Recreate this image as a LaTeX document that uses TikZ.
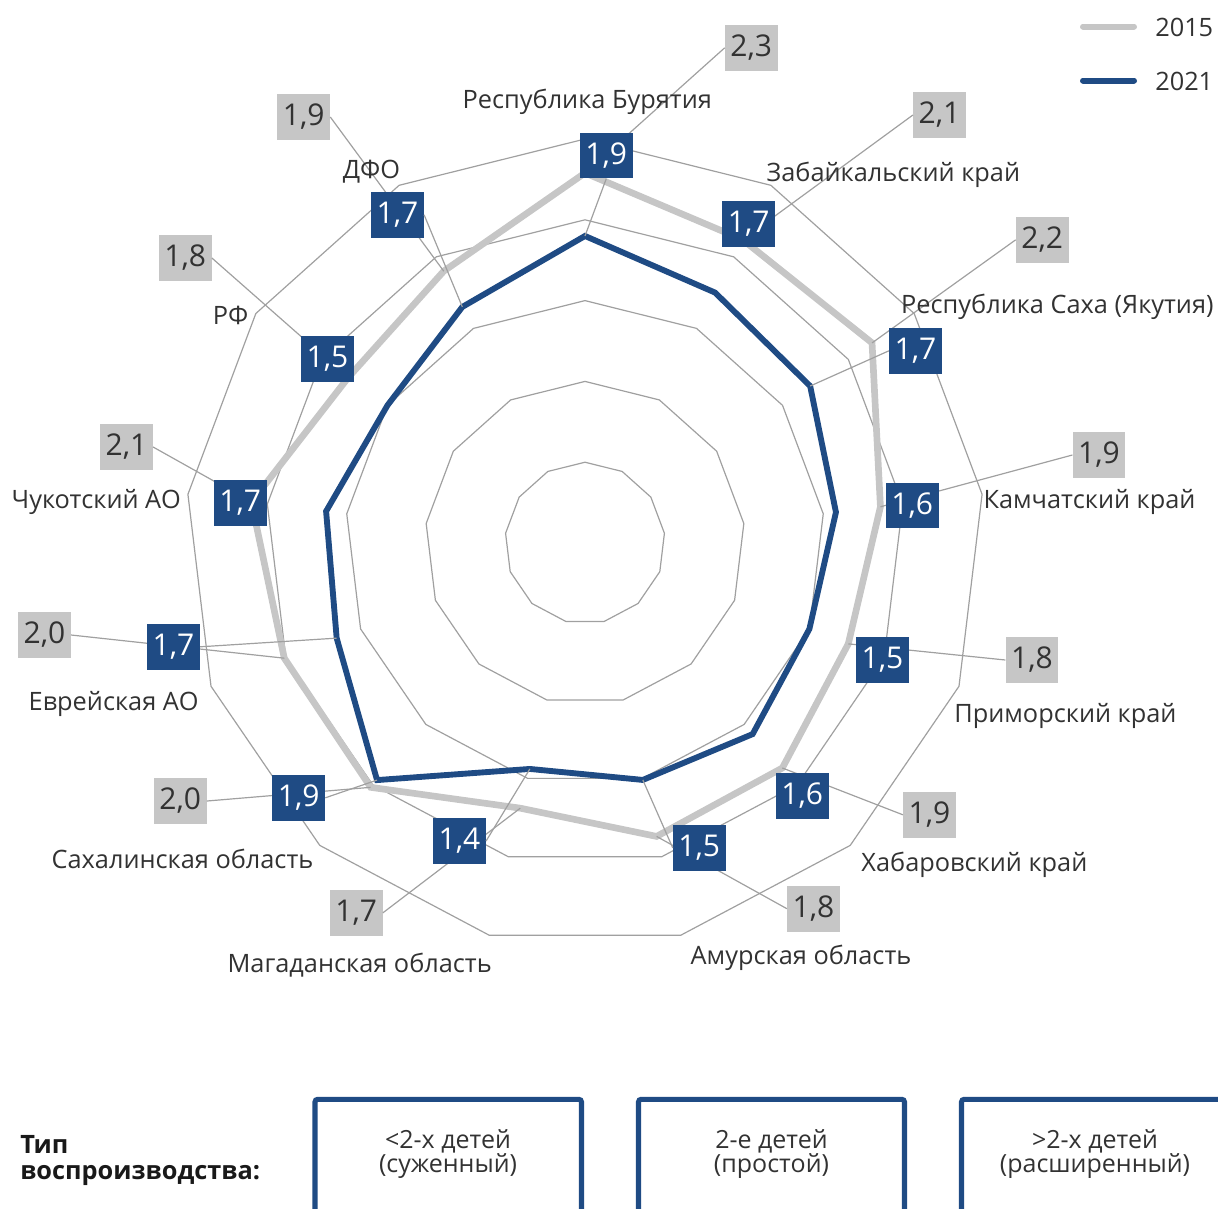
\documentclass[tikz,border=0pt]{standalone}
\usepackage{fontspec}
\setmainfont{Open Sans}
\definecolor{seriesblue}{RGB}{31,75,132}
\definecolor{seriesgray}{RGB}{198,198,198}
\definecolor{gridgray}{RGB}{160,160,160}
\definecolor{labelgray}{RGB}{50,50,50}

\tikzset{
  ring/.style={draw=gridgray, line width=0.9pt},
  leader/.style={draw=gridgray, line width=0.9pt},
  line2015/.style={draw=seriesgray, line width=5pt},
  line2021/.style={draw=seriesblue, line width=4.4pt},
  valbox/.style={minimum width=39.5pt, minimum height=34.3pt, inner sep=0pt, font=\fontsize{22.5}{24}\selectfont},
  box2015/.style={valbox, fill=seriesgray, text=labelgray},
  box2021/.style={valbox, fill=seriesblue, text=white},
  region/.style={anchor=base, inner sep=0pt, text=labelgray, font=\fontsize{19}{22}\selectfont},
  legendtext/.style={anchor=west, inner sep=0pt, text=labelgray, font=\fontsize{19}{22}\selectfont},
  typebox/.style={draw=seriesblue, line width=3.8pt, rounded corners=2pt},
  typetext/.style={align=center, inner sep=0pt, text=labelgray, font=\fontsize{18.75}{18.5}\selectfont},
  typehead/.style={anchor=west, align=left, inner sep=0pt, text=black!90, font=\bfseries\fontsize{19}{19.5}\selectfont}
}

\begin{document}
\begin{tikzpicture}[x=0.75pt, y=-0.75pt]
\useasboundingbox (0,0) rectangle (1218,1208);
\clip (0,0) rectangle (1218,1208);

\begin{scope}[shift={(585,543)}, yscale=1.01]
  \foreach \r in {80,160,...,400}
    \draw[ring] (-90:\r) \foreach \k in {1,...,12} { -- ({-90+\k*360/13}:\r) } -- cycle;
  \foreach \v [count=\k from 0] in {2.29,2.12,2.18,1.86,1.76,1.86,1.87,1.69,2.02,2.01,2.10,1.80,1.90}
    \coordinate (s15-\k) at ({-90+\k*360/13}:{160*\v});
  \foreach \v [count=\k from 0] in {1.90,1.75,1.71,1.58,1.50,1.58,1.51,1.44,1.96,1.66,1.63,1.50,1.65}
    \coordinate (s21-\k) at ({-90+\k*360/13}:{160*\v});
\end{scope}

\draw[line2015] (s15-0) \foreach \k in {1,...,12} { -- (s15-\k) } -- cycle;
\draw[line2021] (s21-0) \foreach \k in {1,...,12} { -- (s21-\k) } -- cycle;

\foreach \ipart/\fpart/\x/\y/\side [count=\k from 0] in
  {2/3/751.3/47.8/west, 2/1/939.5/115/west, 2/2/1042.3/239.8/west, 1/9/1099/455/west,
   1/8/1032/660/west, 1/9/929.5/814.8/west, 1/8/813.5/908.7/west, 1/7/356.3/912.8/east,
   2/0/180.3/801/east, 2/0/44.5/635/east, 2/1/126.5/447/east, 1/8/185.3/258/east,
   1/9/303.7/117/east}
{
  \node[box2015] (g\k) at (\x,\y) {\ipart,\fpart};
  \draw[leader] (s15-\k) -- (g\k.\side);
}

\foreach \ipart/\fpart/\x/\y/\side/\lead [count=\k from 0] in
  {1/9/606.3/155.5/south/1, 1/7/748.7/224/south/0, 1/7/915.5/350.8/west/1, 1/6/912.3/505.5/west/0,
   1/5/882.5/660/west/0, 1/6/802.3/796/north west/0, 1/5/699.3/847.8/west/1, 1/4/459.5/841/east/1,
   1/9/298.7/797.8/east/1, 1/7/173.5/646.8/east/1, 1/7/240.3/503/east/0, 1/5/327.5/358.8/south east/0,
   1/7/397.5/214.8/east/1}
{
  \node[box2021] (b\k) at (\x,\y) {\ipart,\fpart};
  \ifnum\lead=1 \draw[leader] (s21-\k) -- (b\k.\side); \fi
}

\foreach \name/\x/\y [count=\k from 0] in
  {Республика Бурятия/587.3/108, Забайкальский край/893.4/181,
   Республика Саха (Якутия)/1057.4/313.3, Камчатский край/1089.5/508,
   Приморский край/1065.4/722.7, Хабаровский край/974.4/871,
   Амурская область/801/964, Магаданская область/359.7/972.7,
   Сахалинская область/182.5/868.3, Еврейская АО/113.7/710,
   Чукотский АО/96.3/508.3, РФ/230.5/324.3, ДФО/371.5/178.3}
  \node[region] (r\k) at (\x,\y) {\name};

\coordinate (k15a) at (1083,26.5);
\coordinate (k15b) at (1134,26.5);
\coordinate (k21a) at (1083,80.5);
\coordinate (k21b) at (1134,80.5);
\draw[line2015, line width=4.5pt, line cap=round] (k15a) -- (k15b);
\draw[line2021, line width=4.5pt, line cap=round] (k21a) -- (k21b);
\node[legendtext] (t15) at (1155,27) {2015};
\node[legendtext] (t21) at (1155,81) {2021};

\node[typehead] (head) at (20,1160) {Тип\\воспроизводства:};
\draw[typebox] (315,1099.3) rectangle (581.5,1260);
\draw[typebox] (638.5,1099.3) rectangle (904.5,1260);
\draw[typebox] (961.5,1099.3) rectangle (1228,1260);
\node[typetext] (ty1) at (448,1154) {<2-х детей\\(суженный)};
\node[typetext] (ty2) at (771.5,1154) {2-е детей\\(простой)};
\node[typetext] (ty3) at (1095,1154) {>2-х детей\\(расширенный)};
\end{tikzpicture}
\end{document}
